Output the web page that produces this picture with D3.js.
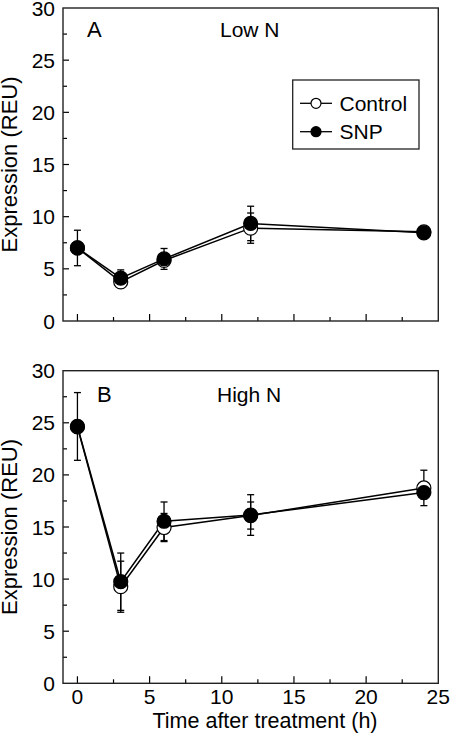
<!DOCTYPE html>
<html>
<head>
<meta charset="utf-8">
<script src="https://cdn.jsdelivr.net/npm/d3@7"></script>
<style>
  html, body { margin: 0; padding: 0; background: #fff; }
  svg { display: block; }
  text { font-family: "Liberation Sans", Arial, Helvetica, sans-serif; fill: #000; }
</style>
</head>
<body>
<svg id="chart" width="464" height="736"></svg>
<script>
// ---- data ----
const times = [0, 3, 6, 12, 24];
const xTicks = [0, 5, 10, 15, 20, 25];
const yTicks = [0, 5, 10, 15, 20, 25, 30];
const seriesNames = ["Control", "SNP"];

const lowNControl    = [7.0, 3.75, 5.8, 8.9, 8.55];
const lowNControlErr = [0.4, 0.3, 0.3, 1.45, 0.3];
const lowNSNP        = [7.0, 4.1, 5.95, 9.35, 8.45];
const lowNSNPErr     = [1.7, 0.8, 1.0, 1.65, 0.3];

const highNControl    = [24.6, 9.27, 14.95, 16.1, 18.75];
const highNControlErr = [0.4, 2.45, 1.35, 1.3, 1.7];
const highNSNP        = [24.65, 9.75, 15.55, 16.15, 18.3];
const highNSNPErr     = [3.25, 2.75, 1.85, 1.95, 0.6];

const panels = [
  { letter: "A", title: "Low N", top: 8, bottom: 321, letterX: 87, titleX: 220, labelDy: 29, showX: false,
    control: lowNControl, controlErr: lowNControlErr, snp: lowNSNP, snpErr: lowNSNPErr, legend: true },
  { letter: "B", title: "High N", top: 370.7, bottom: 683.3, letterX: 97, titleX: 217, labelDy: 31, showX: true,
    control: highNControl, controlErr: highNControlErr, snp: highNSNP, snpErr: highNSNPErr, legend: false }
];

const svg = d3.select("#chart");
const left = 63, right = 438.3;
const x = d3.scaleLinear().domain([-1, 25]).range([left, right]);

panels.forEach(p => {
  const y = d3.scaleLinear().domain([0, 30]).range([p.bottom, p.top]);
  const g = svg.append("g");

  const xMinor = d3.range(2.5, 25, 5);
  const yMinor = d3.range(2.5, 30, 5);
  g.selectAll(".xmaj").data(xTicks.slice(0, -1)).join("line")
    .attr("x1", d => x(d)).attr("x2", d => x(d))
    .attr("y1", p.bottom).attr("y2", p.bottom - 7)
    .attr("stroke", "#000").attr("stroke-width", 1.2);
  g.selectAll(".xmin").data(xMinor).join("line")
    .attr("x1", d => x(d)).attr("x2", d => x(d))
    .attr("y1", p.bottom).attr("y2", p.bottom - 4)
    .attr("stroke", "#000").attr("stroke-width", 1.2);
  g.selectAll(".ymaj").data(yTicks.slice(1, -1)).join("line")
    .attr("x1", left).attr("x2", left + 6)
    .attr("y1", d => y(d)).attr("y2", d => y(d))
    .attr("stroke", "#000").attr("stroke-width", 1.2);
  g.selectAll(".ymin").data(yMinor).join("line")
    .attr("x1", left).attr("x2", left + 4)
    .attr("y1", d => y(d)).attr("y2", d => y(d))
    .attr("stroke", "#000").attr("stroke-width", 1.2);

  g.append("rect").attr("x", left).attr("y", p.top)
    .attr("width", right - left).attr("height", p.bottom - p.top)
    .attr("fill", "none").attr("stroke", "#222").attr("stroke-width", 1.4);

  g.selectAll(".ylab").data(yTicks).join("text")
    .attr("x", 55).attr("y", d => y(d)).attr("dy", "0.36em")
    .attr("text-anchor", "end").attr("font-size", 21).text(d => d);

  if (p.showX) {
    g.selectAll(".xlab").data(xTicks).join("text")
      .attr("x", d => x(d)).attr("y", 704)
      .attr("text-anchor", "middle").attr("font-size", 21).text(d => d);
    g.append("text").attr("x", 265).attr("y", 728).attr("text-anchor", "middle")
      .attr("font-size", 21.5).text("Time after treatment (h)");
  }

  g.append("text")
    .attr("transform", `translate(16.5,${(p.top + p.bottom) / 2}) rotate(-90)`)
    .attr("text-anchor", "middle").attr("font-size", 22).text("Expression (REU)");

  g.append("text").attr("x", p.letterX).attr("y", p.top + p.labelDy).attr("font-size", 22).text(p.letter);
  g.append("text").attr("x", p.titleX).attr("y", p.top + p.labelDy).attr("font-size", 21).text(p.title);

  const series = [
    { vals: p.control, errs: p.controlErr, fill: "#fff" },
    { vals: p.snp, errs: p.snpErr, fill: "#000" }
  ];

  series.forEach(s => {
    const eg = g.append("g");
    times.forEach((t, i) => {
      const cx = x(t), hi = y(s.vals[i] + s.errs[i]), lo = y(s.vals[i] - s.errs[i]);
      eg.append("line").attr("x1", cx).attr("x2", cx).attr("y1", hi).attr("y2", lo)
        .attr("stroke", "#000").attr("stroke-width", 1.3);
      [hi, lo].forEach(yy => eg.append("line").attr("x1", cx - 3.5).attr("x2", cx + 3.5)
        .attr("y1", yy).attr("y2", yy).attr("stroke", "#000").attr("stroke-width", 1.3));
    });
  });

  const line = d3.line().x((d, i) => x(times[i])).y(d => y(d));
  series.forEach(s => {
    g.append("path").datum(s.vals).attr("d", line)
      .attr("fill", "none").attr("stroke", "#000").attr("stroke-width", 1.5);
  });

  series.forEach(s => {
    g.selectAll(null).data(s.vals).join("circle")
      .attr("cx", (d, i) => x(times[i])).attr("cy", d => y(d)).attr("r", 7)
      .attr("fill", s.fill).attr("stroke", "#000").attr("stroke-width", 1.2);
  });

  if (p.legend) {
    const lg = g.append("g");
    lg.append("rect").attr("x", 292.7).attr("y", 80).attr("width", 126.3).attr("height", 69)
      .attr("fill", "#fff").attr("stroke", "#222").attr("stroke-width", 1.3);
    seriesNames.forEach((name, i) => {
      const yy = 103.3 + i * 28.4;
      lg.append("line").attr("x1", 300).attr("x2", 332).attr("y1", yy).attr("y2", yy)
        .attr("stroke", "#000").attr("stroke-width", 1.3);
      lg.append("circle").attr("cx", 316).attr("cy", yy).attr("r", 5)
        .attr("fill", series[i].fill).attr("stroke", "#000").attr("stroke-width", 1.2);
      lg.append("text").attr("x", 339.5).attr("y", yy).attr("dy", "0.36em")
        .attr("font-size", 21).text(name);
    });
  }
});
</script>
</body>
</html>
